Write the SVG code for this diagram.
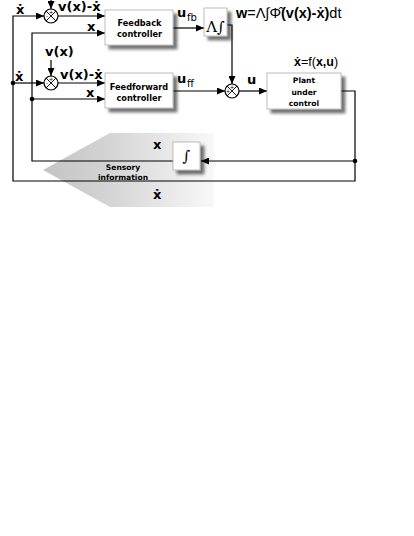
<svg xmlns="http://www.w3.org/2000/svg" width="414" height="536" viewBox="0 0 414 536">
<defs>
<style>
.box{fill:#fff;stroke:#aaa;stroke-width:0.8}
.ln{fill:none;stroke:#000;stroke-width:1.2}
.lab{font-family:"DejaVu Sans",sans-serif;font-weight:bold;font-size:13px;fill:#000}
.sub{font-family:"DejaVu Sans",sans-serif;font-size:10px;fill:#000}
.bt{font-family:"DejaVu Sans",sans-serif;font-weight:bold;font-size:8.2px;fill:#000;text-anchor:middle}
.sym{font-family:"DejaVu Serif",serif;font-size:15px;fill:#000;text-anchor:middle}
.sg{font-family:"DejaVu Sans",sans-serif;font-size:5.5px;fill:#000;text-anchor:middle}
.eq{font-family:"Liberation Sans",sans-serif;font-size:12.5px;fill:#000}
.b{font-weight:bold}
</style>
<marker id="ah" markerUnits="userSpaceOnUse" markerWidth="8" markerHeight="7" refX="8" refY="3.5" orient="auto">
<path d="M0,0 L8,3.5 L0,7 Z" fill="#000"/>
</marker>
<filter id="sh" x="-20%" y="-20%" width="150%" height="160%">
<feDropShadow dx="4" dy="4" stdDeviation="1.8" flood-color="#000" flood-opacity="0.55"/>
</filter>
<linearGradient id="gr" gradientUnits="userSpaceOnUse" x1="43" y1="0" x2="214" y2="0">
<stop offset="0" stop-color="#c4c4c4"/>
<stop offset="0.35" stop-color="#d2d2d2"/>
<stop offset="1" stop-color="#f8f8f8"/>
</linearGradient>
<g id="sum">
<circle r="7" fill="#fff" stroke="#000" stroke-width="1.2"/>
<path d="M-4.95,-4.95 L4.95,4.95 M4.95,-4.95 L-4.95,4.95" stroke="#000" stroke-width="0.9"/>
</g>
</defs>

<g id="sensory-arrow">
<polygon points="43,170 110,133 214,133 214,207 110,207" fill="url(#gr)"/>
<text class="bt" x="123" y="170" style="font-size:7.6px">Sensory</text>
<text class="bt" x="123" y="180" style="font-size:7.6px">information</text>
</g>

<g id="connectors">
<path class="ln" d="M341,91 H355 V181 H13 V16 H44" marker-end="url(#ah)"/>
<path class="ln" d="M13,83 H44" marker-end="url(#ah)"/>
<path class="ln" d="M355,161 H201" marker-end="url(#ah)"/>
<path class="ln" d="M173,161 H32 V33 H105" marker-end="url(#ah)"/>
<path class="ln" d="M32,99 H105" marker-end="url(#ah)"/>
<path class="ln" d="M58,16 H105" marker-end="url(#ah)"/>
<path class="ln" d="M51,0 V9" marker-end="url(#ah)"/>
<path class="ln" d="M51,60 V76" marker-end="url(#ah)"/>
<path class="ln" d="M58,83 H105" marker-end="url(#ah)"/>
<path class="ln" d="M173,28 H204" marker-end="url(#ah)"/>
<path class="ln" d="M227,25 H232 V84" marker-end="url(#ah)"/>
<path class="ln" d="M173,91 H225" marker-end="url(#ah)"/>
<path class="ln" d="M239,91 H267" marker-end="url(#ah)"/>
<circle cx="13" cy="83" r="2.3" fill="#000"/>
<circle cx="32" cy="99" r="2.3" fill="#000"/>
<circle cx="355" cy="161" r="2.3" fill="#000"/>
</g>

<g id="sum1">
<use href="#sum" x="51" y="16"/>
<text class="sg" x="51" y="13.5">+</text>
<text class="sg" x="47" y="18">-</text>
</g>
<g id="sum2">
<use href="#sum" x="51" y="83"/>
<text class="sg" x="51" y="80.5">+</text>
<text class="sg" x="47" y="85">-</text>
</g>
<g id="sum3">
<use href="#sum" x="232" y="91"/>
<text class="sg" x="232" y="88.5">+</text>
<text class="sg" x="228" y="93">+</text>
</g>

<g id="feedback-controller">
<rect class="box" x="105" y="10" width="68" height="35" filter="url(#sh)"/>
<text class="bt" x="139.5" y="26">Feedback</text>
<text class="bt" x="139.5" y="37">controller</text>
</g>
<g id="feedforward-controller">
<rect class="box" x="105" y="73" width="68" height="35" filter="url(#sh)"/>
<text class="bt" x="139" y="90">Feedforward</text>
<text class="bt" x="139" y="101">controller</text>
</g>
<g id="adaptation">
<rect class="box" x="204" y="8" width="23" height="28" filter="url(#sh)"/>
<text class="sym" x="215.5" y="32">Λ∫</text>
</g>
<g id="plant">
<rect class="box" x="267" y="73" width="74" height="36" filter="url(#sh)"/>
<text class="bt" x="304" y="83" style="font-size:7.6px">Plant</text>
<text class="bt" x="304" y="95" style="font-size:7.6px">under</text>
<text class="bt" x="304" y="106" style="font-size:7.6px">control</text>
</g>
<g id="integrator">
<rect class="box" x="173" y="142" width="27" height="28" filter="url(#sh)"/>
<text class="sym" x="186.5" y="161">∫</text>
</g>

<g id="labels">
<text class="lab" x="16" y="14">ẋ</text>
<text class="lab" x="58" y="11">v(x)-ẋ</text>
<text class="lab" x="87" y="31">x</text>
<text class="lab" x="45" y="56">v(x)</text>
<text class="lab" x="15" y="81">ẋ</text>
<text class="lab" x="60" y="79">v(x)-ẋ</text>
<text class="lab" x="86" y="97">x</text>
<text class="lab" x="177" y="17">u</text><text class="sub" x="187" y="21">fb</text>
<text class="lab" x="177" y="83">u</text><text class="sub" x="187" y="87">ff</text>
<text class="lab" x="247" y="84">u</text>
<text class="eq" x="236" y="18" style="font-size:14.5px"><tspan class="b">w</tspan>=Λ∫Φ̂<tspan class="b">(v(x)-ẋ)</tspan>dt</text>
<text class="eq" x="294" y="66"><tspan class="b">ẋ</tspan>=f(<tspan class="b">x,u</tspan>)</text>
<text class="lab" x="153" y="149">x</text>
<text class="lab" x="153" y="199">ẋ</text>
</g>
</svg>
